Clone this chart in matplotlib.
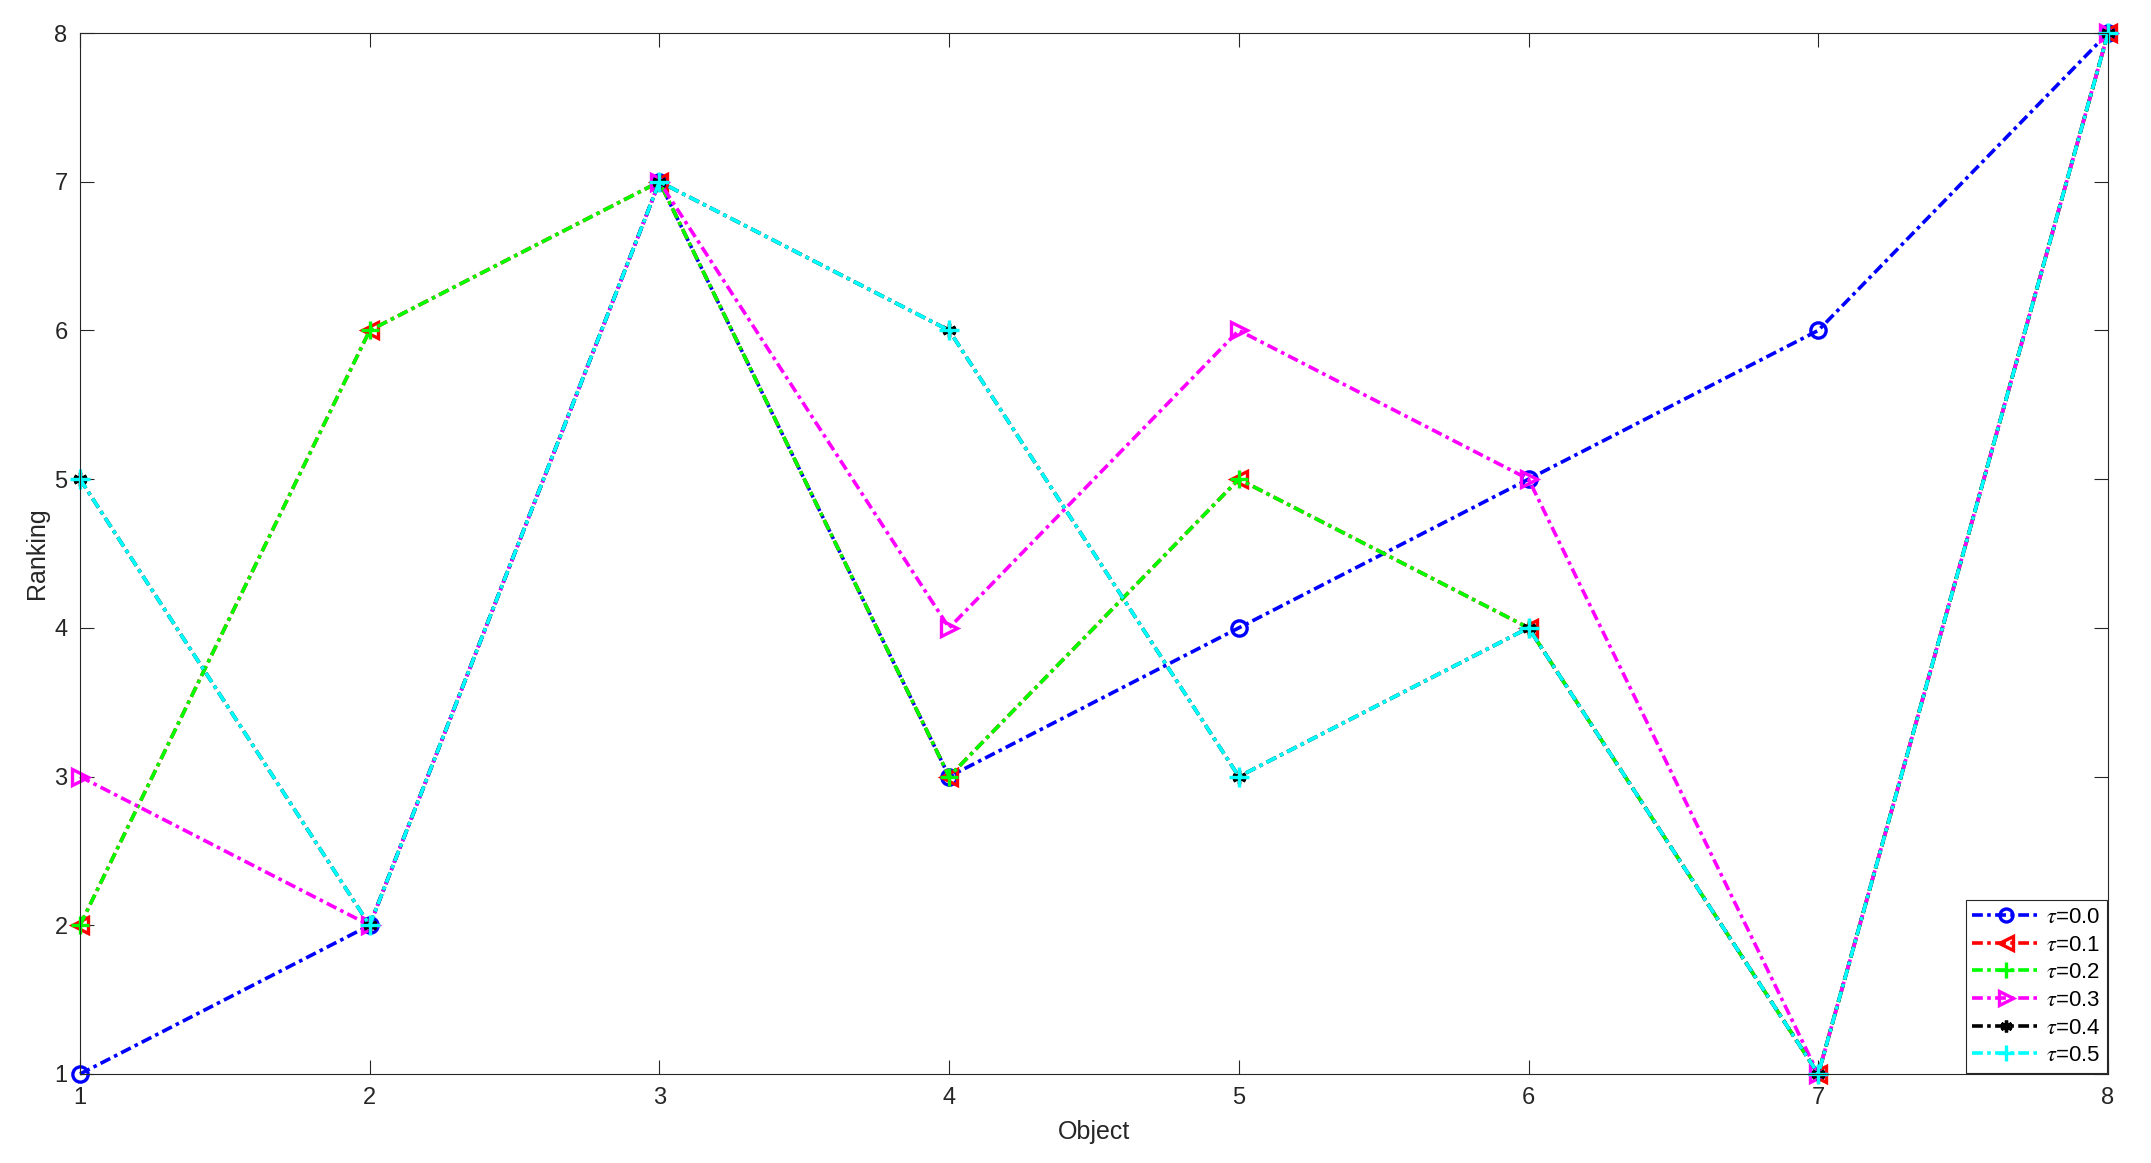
import matplotlib
matplotlib.use('Agg')
import matplotlib.pyplot as plt

plt.rcParams['font.family'] = ['Liberation Sans', 'DejaVu Sans']
plt.rcParams['mathtext.fontset'] = 'stix'

# Data
objects = [1, 2, 3, 4, 5, 6, 7, 8]
tau_labels = [r'$\tau$=0.0', r'$\tau$=0.1', r'$\tau$=0.2', r'$\tau$=0.3', r'$\tau$=0.4', r'$\tau$=0.5']
rank_00 = [1, 2, 7, 3, 4, 5, 6, 8]
rank_01 = [2, 6, 7, 3, 5, 4, 1, 8]
rank_02 = [2, 6, 7, 3, 5, 4, 1, 8]
rank_03 = [3, 2, 7, 4, 6, 5, 1, 8]
rank_04 = [5, 2, 7, 6, 3, 4, 1, 8]
rank_05 = [5, 2, 7, 6, 3, 4, 1, 8]

series = [rank_00, rank_01, rank_02, rank_03, rank_04, rank_05]
colors = ['#0000ff', '#ff0000', '#00ff00', '#ff00ff', '#000000', '#00ffff']
markers = ['o', '<', '+', '>', (6, 2, 0), '+']
msizes = [11, 12, 13, 12, 10, 14]

axcol = '#262626'

fig = plt.figure(figsize=(21.51, 11.63), dpi=100)
ax = fig.add_axes([80/2151, 1 - 1074/1163, (2108-80)/2151, (1074-33)/1163])

for ys, c, m, ms, lab in zip(series, colors, markers, msizes, tau_labels):
    ax.plot(objects, ys, linestyle=(0, (3, 1.2, 1, 1.2)), color=c, linewidth=2.6,
            marker=m, markersize=ms, markeredgewidth=2.4, markerfacecolor='none',
            markeredgecolor=c, label=lab, clip_on=False)

ax.set_xlim(1, 8)
ax.set_ylim(1, 8)
ax.set_xticks(objects)
ax.set_yticks(range(1, 9))
ax.tick_params(direction='in', length=10, width=0.8, labelsize=17,
               top=True, right=True, pad=9, colors=axcol)
for s in ax.spines.values():
    s.set_linewidth(0.8)
    s.set_color(axcol)

ax.set_xlabel('Object', fontsize=18, labelpad=8, color=axcol)
ax.set_ylabel('Ranking', fontsize=18, labelpad=4, color=axcol)

leg = ax.legend(loc='lower right', bbox_to_anchor=(1.0, 0.0), borderaxespad=0.05,
                fontsize=16, handlelength=3.0, handletextpad=0.3,
                labelspacing=0.3, borderpad=0.3, fancybox=False,
                framealpha=1, edgecolor=axcol, markerscale=0.85)
leg.get_frame().set_linewidth(0.8)

plt.savefig('out.png', dpi=100)
